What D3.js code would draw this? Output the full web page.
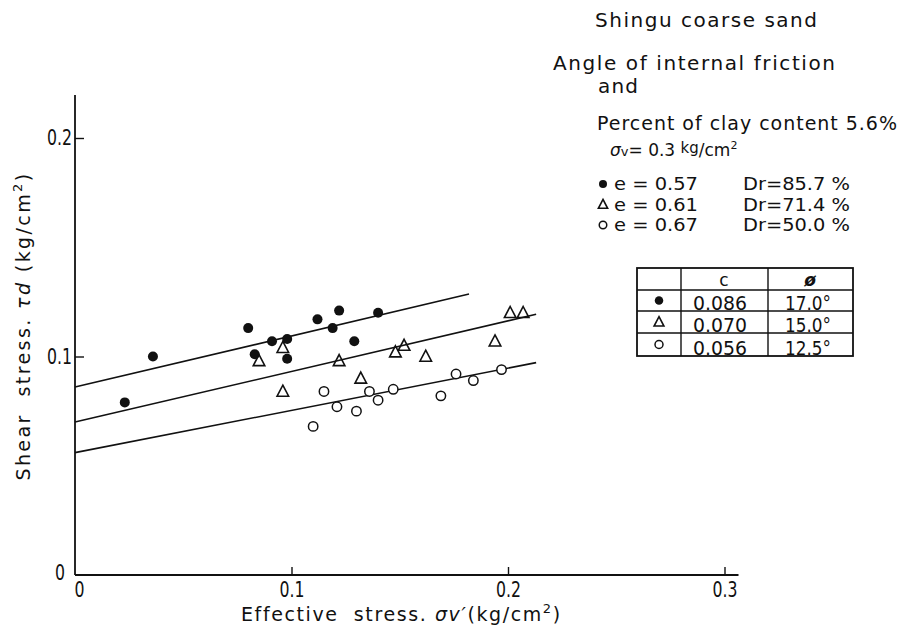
<!DOCTYPE html>
<html>
<head>
<meta charset="utf-8">
<script src="https://cdn.jsdelivr.net/npm/d3@7"></script>
<style>
  body { margin: 0; background: #fff; }
  svg { display: block; }
  text { font-family: "DejaVu Sans", sans-serif; fill: #111; }
</style>
</head>
<body>
<div class="graph-container"></div>
<script>
const width = 901,
    height = 634;

// serie: e = 0.57 (pieni), e = 0.61 (triangoli), e = 0.67 (vuoti)
const seriesNames = ["e = 0.57", "e = 0.61", "e = 0.67"];
const seriesDr = ["Dr=85.7 %", "Dr=71.4 %", "Dr=50.0 %"];
const seriesC = ["0.086", "0.070", "0.056"];
const seriesPhi = ["17.0°", "15.0°", "12.5°"];

const denseX = [0.023, 0.036, 0.080, 0.083, 0.091, 0.098, 0.098, 0.112, 0.122, 0.119, 0.140, 0.129];
const denseY = [0.079, 0.100, 0.113, 0.101, 0.107, 0.108, 0.099, 0.117, 0.121, 0.113, 0.120, 0.107];

const mediumX = [0.085, 0.096, 0.096, 0.122, 0.132, 0.148, 0.152, 0.162, 0.194, 0.201, 0.207];
const mediumY = [0.098, 0.104, 0.084, 0.098, 0.090, 0.102, 0.105, 0.100, 0.107, 0.120, 0.120];

const looseX = [0.110, 0.115, 0.121, 0.130, 0.136, 0.140, 0.147, 0.169, 0.176, 0.184, 0.197];
const looseY = [0.068, 0.084, 0.077, 0.075, 0.084, 0.080, 0.085, 0.082, 0.092, 0.089, 0.094];

// rette: intercetta c e punto finale
const lineC = [0.086, 0.070, 0.056];
const lineEndX = [0.182, 0.213, 0.213];
const lineEndY = [0.1286, 0.1193, 0.0972];

const xTicks = [0, 0.1, 0.2, 0.3];
const yTicks = [0, 0.1, 0.2];

const x = d3.scaleLinear().domain([0, 0.3]).range([75, 724.5]);
const y = d3.scaleLinear().domain([0, 0.2]).range([575, 138]);

const svg = d3.select(".graph-container")
    .append("svg")
    .attr("width", width)
    .attr("height", height)
    .attr("viewBox", `0 0 ${width} ${height}`);

// testo "stretto" come nel disegno originale
const narrow = (sel, len) => sel.attr("textLength", len).attr("lengthAdjust", "spacingAndGlyphs");

// assi
const fmt = d => d === 0 ? "0" : d.toFixed(1);

const xAxis = svg.append("g")
    .attr("transform", `translate(0, ${y(0)})`)
    .call(d3.axisBottom(x).tickValues(xTicks).tickSize(-8).tickPadding(7).tickFormat(fmt));
xAxis.select(".domain").remove();
xAxis.selectAll(".tick line").attr("stroke", "#111").attr("stroke-width", 1.4)
    .filter(d => d === 0).remove();
xAxis.selectAll(".tick text").attr("font-size", 21).attr("fill", "#111")
    .attr("font-family", "DejaVu Sans, sans-serif")
    .each(function (d) { narrow(d3.select(this), d === 0 ? 10 : 25); })
    .filter(d => d === 0).attr("x", 4);

const yAxis = svg.append("g")
    .attr("transform", `translate(${x(0)}, 0)`)
    .call(d3.axisLeft(y).tickValues(yTicks).tickSize(-9).tickPadding(3).tickFormat(fmt));
yAxis.select(".domain").remove();
yAxis.selectAll(".tick line").attr("stroke", "#111").attr("stroke-width", 1.4)
    .filter(d => d === 0).remove();
yAxis.selectAll(".tick text").attr("font-size", 21).attr("fill", "#111")
    .attr("font-family", "DejaVu Sans, sans-serif")
    .each(function (d) { narrow(d3.select(this), d === 0 ? 10 : 25); })
    .filter(d => d === 0).attr("x", -10).attr("dy", "0.2em");

svg.append("line")
    .attr("x1", x(0)).attr("x2", x(0.3) + 14)
    .attr("y1", y(0)).attr("y2", y(0))
    .attr("stroke", "#111").attr("stroke-width", 1.8);
svg.append("line")
    .attr("x1", x(0)).attr("x2", x(0))
    .attr("y1", y(0)).attr("y2", y(0.2) - 43)
    .attr("stroke", "#111").attr("stroke-width", 1.8);

// rette di regressione
lineC.forEach((c, i) => {
    svg.append("line")
        .attr("x1", x(0)).attr("y1", y(c))
        .attr("x2", x(lineEndX[i])).attr("y2", y(lineEndY[i]))
        .attr("stroke", "#111").attr("stroke-width", 1.6);
});

// marcatori
const triPath = (cx, cy, s) => `M${cx},${cy - s * 0.6}L${cx + s * 0.55},${cy + s * 0.45}L${cx - s * 0.55},${cy + s * 0.45}Z`;

function drawMarker(g, kind, cx, cy, k = 1) {
    if (kind === 0) {
        g.append("circle").attr("cx", cx).attr("cy", cy).attr("r", 5 * k).attr("fill", "#111");
    } else if (kind === 1) {
        g.append("path").attr("d", triPath(cx, cy, 10.5 * k)).attr("fill", "none")
            .attr("stroke", "#111").attr("stroke-width", 1.6);
    } else {
        g.append("circle").attr("cx", cx).attr("cy", cy).attr("r", 4.7 * k).attr("fill", "#fff")
            .attr("stroke", "#111").attr("stroke-width", 1.5);
    }
}

const points = svg.append("g");
denseX.forEach((v, i) => drawMarker(points, 0, x(v), y(denseY[i])));
mediumX.forEach((v, i) => drawMarker(points, 1, x(v), y(mediumY[i])));
looseX.forEach((v, i) => drawMarker(points, 2, x(v), y(looseY[i])));

// titoli degli assi
svg.append("text")
    .attr("transform", "translate(30, 326) rotate(-90)")
    .attr("text-anchor", "middle")
    .attr("font-size", 19)
    .attr("letter-spacing", 2.4)
    .html('Shear&#160;&#160;stress. <tspan font-style="italic">τd</tspan> (kg/cm<tspan dy="-8" font-size="13">2</tspan><tspan dy="8">)</tspan>');

svg.append("text")
    .attr("x", 241).attr("y", 621)
    .attr("font-size", 19)
    .attr("letter-spacing", 1.6)
    .html('Effective&#160;&#160;stress. <tspan font-style="italic">σv′</tspan>(kg/cm<tspan dy="-8" font-size="13">2</tspan><tspan dy="8">)</tspan>');

// testi a destra
const note = svg.append("g");
note.append("text").attr("x", 595).attr("y", 27).attr("font-size", 20).attr("textLength", 222).text("Shingu coarse sand");
note.append("text").attr("x", 553).attr("y", 70).attr("font-size", 20).attr("textLength", 282).text("Angle of internal friction");
note.append("text").attr("x", 598).attr("y", 93).attr("font-size", 20).attr("textLength", 40).text("and");
note.append("text").attr("x", 597).attr("y", 130).attr("font-size", 19).attr("textLength", 300).text("Percent of clay content 5.6%");
note.append("text").attr("x", 610).attr("y", 156).attr("font-size", 17)
    .html('<tspan font-style="italic">σ</tspan><tspan font-size="13">v</tspan>= 0.3 <tspan dy="-3" font-size="15">kg</tspan><tspan dy="3">/cm</tspan><tspan dy="-7" font-size="11">2</tspan>');

// legenda
const legend = svg.append("g");
seriesNames.forEach((name, i) => {
    const yy = 190 + i * 20.5;
    drawMarker(legend, i, 603, yy - 6, 0.8);
    narrow(legend.append("text").attr("x", 614).attr("y", yy).attr("font-size", 18).text(name), 84);
    narrow(legend.append("text").attr("x", 743).attr("y", yy).attr("font-size", 18).text(seriesDr[i]), 107);
});

// tabella c e phi
const colX = [637, 681, 768, 853];
const rowY = [268, 290, 311, 333, 356];
const table = svg.append("g");
table.append("rect")
    .attr("x", colX[0]).attr("y", rowY[0])
    .attr("width", colX[3] - colX[0]).attr("height", rowY[4] - rowY[0])
    .attr("fill", "none").attr("stroke", "#111").attr("stroke-width", 1.8);
colX.slice(1, 3).forEach(cx => table.append("line")
    .attr("x1", cx).attr("x2", cx).attr("y1", rowY[0]).attr("y2", rowY[4])
    .attr("stroke", "#111").attr("stroke-width", 1.4));
rowY.slice(1, 4).forEach(ry => table.append("line")
    .attr("x1", colX[0]).attr("x2", colX[3]).attr("y1", ry).attr("y2", ry)
    .attr("stroke", "#111").attr("stroke-width", 1.4));

table.append("text").attr("x", 724).attr("y", 286).attr("text-anchor", "middle")
    .attr("font-size", 17).text("c");
table.append("text").attr("x", 810).attr("y", 286).attr("text-anchor", "middle")
    .attr("font-size", 17).attr("font-style", "italic").attr("font-weight", "bold").text("ø");

seriesC.forEach((c, i) => {
    const cy = (rowY[i + 1] + rowY[i + 2]) / 2;
    drawMarker(table, i, 659, cy, 0.85);
    narrow(table.append("text").attr("x", 720).attr("y", rowY[i + 2] - 1).attr("text-anchor", "middle")
        .attr("font-size", 19).text(c), 54);
    narrow(table.append("text").attr("x", 808).attr("y", rowY[i + 2] - 1).attr("text-anchor", "middle")
        .attr("font-size", 19).text(seriesPhi[i]), 46);
});
</script>
</body>
</html>
